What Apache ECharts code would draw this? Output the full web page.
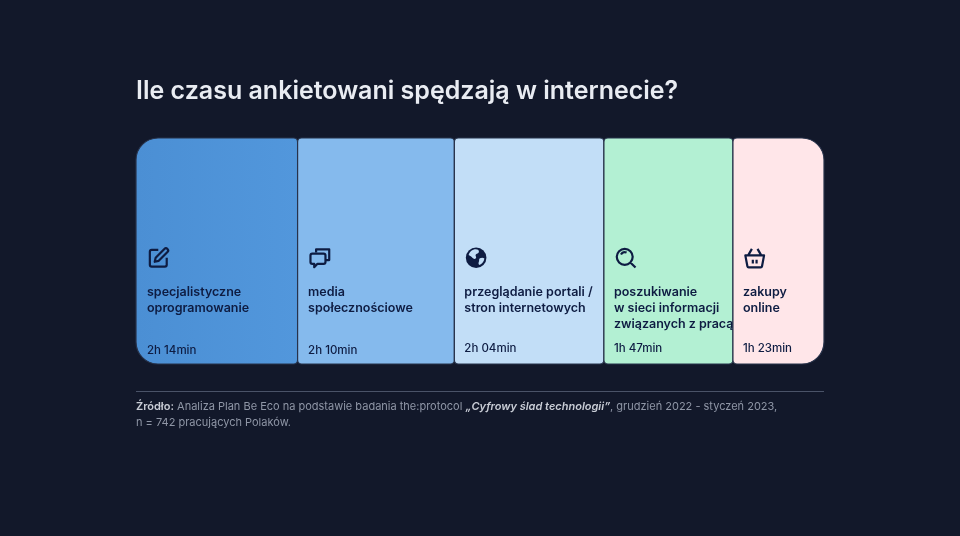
<!DOCTYPE html>
<html><head><meta charset="utf-8">
<script src="https://cdn.jsdelivr.net/npm/echarts@6/dist/echarts.min.js"></script>
<style>html,body{margin:0;padding:0;background:#12182a}#c{width:960px;height:536px}</style>
</head><body><div id="c"></div>
<script>
const titleText = 'Ile czasu ankietowani spędzają w internecie?';
const categories = ['specjalistyczne\noprogramowanie','media\nspołecznościowe','przeglądanie portali /\nstron internetowych','poszukiwanie\nw sieci informacji\nzwiązanych z pracą','zakupy\nonline'];
const minutes = [134,130,124,107,83];
const timeLabels = ['2h 14min','2h 10min','2h 04min','1h 47min','1h 23min'];
const colors = ['#4f94d8','#85baed','#c2def7','#b3f0d3','#ffe6e9'];
const BG = '#12182a', INK = '#0e1c42';
const FONT = 'Inter, sans-serif';
const BOX = 'M0 0L0 0M24 24L24 24';
const icons = [
  [{d:'M11.5 3.5H4.5a2 2 0 0 0-2 2v14a2 2 0 0 0 2 2h14a2 2 0 0 0 2-2v-7.5M18 2.6a2.3 2.3 0 0 1 3.3 3.3L12 15.3l-4.3 1 1-4.2z',s:1}],
  [{d:'M8 6V3h14v11.5h-3M4 7.5h12a2 2 0 0 1 2 2v7a2 2 0 0 1-2 2H9.5L6 22v-3.5H4a2 2 0 0 1-2-2v-7a2 2 0 0 1 2-2z',s:1}],
  [{d:'M12 1a11 11 0 1 0 0.01 0z',f:1},{d:'M9 3.4C12 2.4 15 3 15 5.5c0 2-3 1.6-3.5 3.4-.5 1.6 1.5 2.6 0 4-1.4 1.2-3-.2-4.2-1.6C6 9.5 4.4 9.6 4 9c.6-2.6 2.6-4.6 5-5.6zM16 12.5c2-1 4-.6 4.8.3-.4 3.2-2.5 5.8-5.3 7-1.4-.6-1-2.6-.4-4 .3-1.300-.3-2.500.9-3.300z',l:1}],
  [{d:'M11 2.500a8.500 8.500 0 1 0 0.010 0zM7 8.500C8 6.500 10.500 5.500 13 6.500M17 17L22.500 22.500',s:1}],
  [{d:'M2 9.500H22L19.800 21a1.500 1.500 0 0 1-1.500 1.200H5.700A1.500 1.500 0 0 1 4.200 21zM5 9.500L9 2.500M19 9.500L15 2.500M10 14v4M14 14v4',s:1}]
];
const textXOffset = [11,10.5,10,10,10];
const timeY = [345,345,343,343,343];
const AXIS_MAX = 570.5;

let acc = 0;
const cells = minutes.map((m,i)=>{const c=[i,acc,acc+m,m];acc+=m;return c;});

function renderItem(params, api){
  const i = api.value(0);
  const cs = params.coordSys;
  const right = cs.x + cs.width;
  const x0 = api.coord([api.value(1),0])[0];
  const x1 = Math.min(api.coord([api.value(2),0])[0], right);
  const first = i===0, last = i===minutes.length-1;
  const r = [first?22:4, last?22:4, last?22:4, first?22:4];
  const fill = first ? {type:'linear',x:0,y:0,x2:1,y2:0,colorStops:[{offset:0,color:'#4b8fd4'},{offset:1,color:'#5297dc'}]} : colors[i];
  const tx = x0 + textXOffset[i];
  const kids = [{type:'rect',shape:{x:x0,y:cs.y,width:x1-x0,height:cs.height,r},style:{fill,stroke:'#27324a',lineWidth:1.2}}];
  const paths = icons[i];
  paths.forEach(p=>{
    kids.push({type:'path',x:0,y:0,
      shape:{pathData:BOX+p.d,x:tx+0.5,y:246.5,width:22.5,height:22.5,layout:'cover'},
      style:{fill:p.f?INK:(p.l?colors[i]:'none'),stroke:p.s?INK:null,lineWidth:p.s?2.2:0,lineJoin:'round',lineCap:'butt'}});
  });
  categories[i].split('\n').forEach((line,k)=>{
    kids.push({type:'text',style:{text:line,x:tx,y:286+k*16,fill:INK,font:'600 12.5px '+FONT,textBaseline:'middle',textAlign:'left'}});
  });
  kids.push({type:'text',style:{text:timeLabels[i],x:tx,y:timeY[i],fill:INK,font:'500 11.5px '+FONT,textBaseline:'middle',textAlign:'left'}});
  return {type:'group',children:kids};
}

const chart = echarts.init(document.getElementById('c'),null,{renderer:'canvas'});
chart.setOption({
  animation:false,
  backgroundColor:BG,
  title:[
    {text:titleText,left:136,top:79,padding:0,textStyle:{color:'#e9ecf2',fontFamily:FONT,fontWeight:600,fontSize:25}},
    {text:'{b|Źródło:} Analiza Plan Be Eco na podstawie badania the:protocol {i|„Cyfrowy ślad technologii”}, grudzień 2022 - styczeń 2023,\nn = 742 pracujących Polaków.',
     left:136,top:399,padding:0,
     textStyle:{color:'#8f96a6',fontFamily:FONT,fontSize:11,fontWeight:400,lineHeight:16,
       rich:{b:{color:'#c9cdd6',fontFamily:FONT,fontSize:11,fontWeight:600,lineHeight:16},i:{color:'#c9cdd6',fontFamily:FONT,fontSize:11,fontStyle:'italic',fontWeight:600,lineHeight:16}}}}
  ],
  grid:{left:136,right:136,top:138,height:226,containLabel:false},
  xAxis:{type:'value',min:0,max:AXIS_MAX,show:false},
  yAxis:{type:'category',data:['czas'],show:false},
  graphic:[{type:'line',shape:{x1:136,y1:391.5,x2:824,y2:391.5},style:{stroke:'#4a5368',lineWidth:1}}],
  series:[{type:'custom',coordinateSystem:'cartesian2d',clip:false,data:cells,encode:{x:[1,2]},renderItem,silent:true}]
});
</script></body></html>
